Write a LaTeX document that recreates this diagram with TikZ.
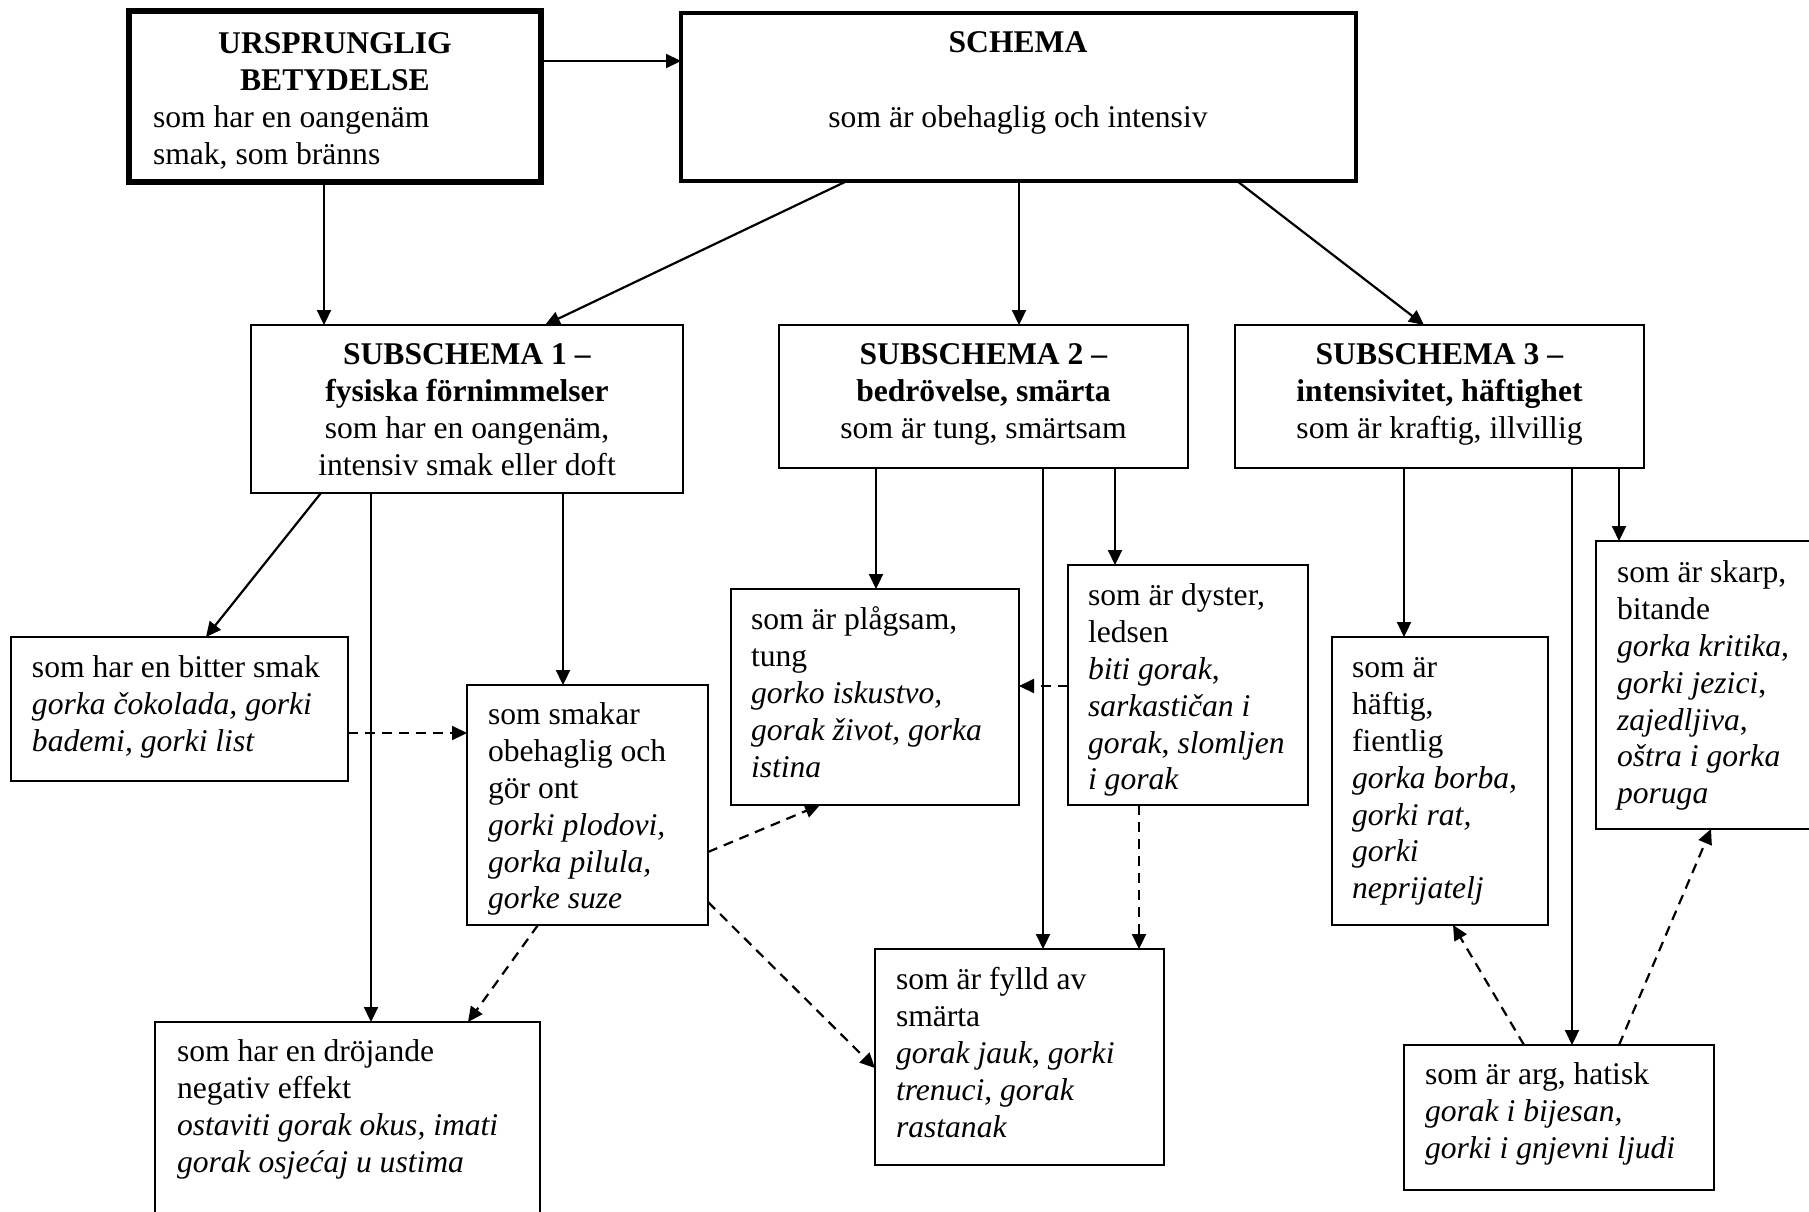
\documentclass[tikz,border=0pt]{standalone}
\usepackage{fontspec}
\setmainfont{Liberation Serif}
\usetikzlibrary{arrows.meta}
\tikzset{
  box/.style={draw, line width=0.8pt, inner sep=0pt, outer sep=0pt},
  subbox/.style={box, line width=1.1pt},
  schbox/.style={box, line width=1.6pt},
  ursbox/.style={box, line width=2.6pt},
  tx/.style={inner sep=0pt, outer sep=0pt, font=\fontsize{15.8pt}{18.4pt}\selectfont, align=left},
  txc/.style={tx, align=center},
  arr/.style={line width=1.1pt, -{Triangle[length=7.5pt,width=7pt]}},
  darr/.style={arr, dash pattern=on 5pt off 3.5pt},
}
\newcommand\bx[6]{\node[#1, anchor=north west, minimum width={(#5-#3)*0.5pt}, minimum height={(#6-#4)*0.5pt}] (#2) at (#3,#4) {};}
\newcommand\tl[4]{\node[tx,anchor=north west] (#1) at (#2,{#3-25.8}) {\strut#4};}
\newcommand\tc[4]{\node[txc,anchor=north] (#1) at (#2,{#3-25.8}) {\strut#4};}
\begin{document}
\begin{tikzpicture}[x=0.5pt,y=-0.5pt]
\path[fill=white,use as bounding box] (0,0) rectangle (1809,1211);
% boxes
\bx{ursbox}{urs}{129}{11}{541}{182}
\bx{schbox}{schema}{681}{13}{1356}{181}
\bx{subbox}{sub1}{251}{325}{683}{493}
\bx{subbox}{sub2}{779}{325}{1188}{468}
\bx{subbox}{sub3}{1235}{325}{1644}{468}
\bx{box}{bitter}{11}{637}{348}{781}
\bx{box}{smakar}{467}{685}{708}{925}
\bx{box}{drojande}{155}{1022}{540}{1225}
\bx{box}{plagsam}{731}{589}{1019}{805}
\bx{box}{dyster}{1068}{565}{1308}{805}
\bx{box}{fylld}{875}{949}{1164}{1165}
\bx{box}{haftig}{1332}{637}{1548}{925}
\bx{box}{skarp}{1596}{541}{1818}{829}
\bx{box}{arg}{1404}{1045}{1714}{1190}
% texts
\tc{urst1}{335}{54}{\bfseries URSPRUNGLIG\\\bfseries BETYDELSE}
\tl{urst2}{153}{128}{som har en oangenäm\\smak, som bränns}
\tc{scht1}{1018}{53}{\bfseries SCHEMA}
\tc{scht2}{1018}{128}{som är obehaglig och intensiv}
\tc{sub1t}{467}{365}{\textbf{SUBSCHEMA 1 –}\\\textbf{fysiska förnimmelser}\\som har en oangenäm,\\intensiv smak eller doft}
\tc{sub2t}{983.5}{365}{\textbf{SUBSCHEMA 2 –}\\\textbf{bedrövelse, smärta}\\som är tung, smärtsam}
\tc{sub3t}{1439.5}{365}{\textbf{SUBSCHEMA 3 –}\\\textbf{intensivitet, häftighet}\\som är kraftig, illvillig}
\tl{bittert}{32}{678}{som har en bitter smak\\\textit{gorka čokolada, gorki}\\\textit{bademi, gorki list}}
\tl{smakart}{488}{725}{som smakar\\obehaglig och\\gör ont\\\textit{gorki plodovi,}\\\textit{gorka pilula,}\\\textit{gorke suze}}
\tl{drojandet}{177}{1062}{som har en dröjande\\negativ effekt\\\textit{ostaviti gorak okus, imati}\\\textit{gorak osjećaj u ustima}}
\tl{plagsamt}{751}{630}{som är plågsam,\\tung\\\textit{gorko iskustvo,}\\\textit{gorak život, gorka}\\\textit{istina}}
\tl{dystert}{1088}{606}{som är dyster,\\ledsen\\\textit{biti gorak},\\\textit{sarkastičan i}\\\textit{gorak}, \textit{slomljen}\\\textit{i gorak}}
\tl{fylldt}{896}{990}{som är fylld av\\smärta\\\textit{gorak jauk, gorki}\\\textit{trenuci, gorak}\\\textit{rastanak}}
\tl{haftigt}{1352}{678}{som är\\häftig,\\fientlig\\\textit{gorka borba,}\\\textit{gorki rat,}\\\textit{gorki}\\\textit{neprijatelj}}
\tl{skarpt}{1617}{583}{som är skarp,\\bitande\\\textit{gorka kritika},\\\textit{gorki jezici},\\\textit{zajedljiva},\\\textit{oštra i gorka}\\\textit{poruga}}
\tl{argt}{1425}{1085}{som är arg, hatisk\\\textit{gorak i bijesan,}\\\textit{gorki i gnjevni ljudi}}
% solid connectors
\draw[arr] (urs.east |- 0,61) -- (schema.west |- 0,61);
\draw[arr] (urs.south -| 324,0) -- (sub1.north -| 324,0);
\draw[arr] (schema.south -| 847,0) -- (sub1.north -| 545,0);
\draw[arr] (schema.south -| 1019,0) -- (sub2.north -| 1019,0);
\draw[arr] (schema.south -| 1237,0) -- (sub3.north -| 1424,0);
\draw[arr] (sub1.south -| 321,0) -- (bitter.north -| 206,0);
\draw[arr] (sub1.south -| 371,0) -- (drojande.north -| 371,0);
\draw[arr] (sub1.south -| 563,0) -- (smakar.north -| 563,0);
\draw[arr] (sub2.south -| 876,0) -- (plagsam.north -| 876,0);
\draw[arr] (sub2.south -| 1043,0) -- (fylld.north -| 1043,0);
\draw[arr] (sub2.south -| 1115,0) -- (dyster.north -| 1115,0);
\draw[arr] (sub3.south -| 1404,0) -- (haftig.north -| 1404,0);
\draw[arr] (sub3.south -| 1572,0) -- (arg.north -| 1572,0);
\draw[arr] (sub3.south -| 1619,0) -- (skarp.north -| 1619,0);
% dashed connectors
\draw[darr] (bitter.east |- 0,733) -- (smakar.west |- 0,733);
\draw[darr] (smakar.south -| 538,0) -- (drojande.north -| 468,0);
\draw[darr] (smakar.east |- 0,852) -- (plagsam.south -| 820,0);
\draw[darr] (smakar.east |- 0,902) -- (fylld.west |- 0,1068);
\draw[darr] (dyster.west |- 0,686) -- (plagsam.east |- 0,686);
\draw[darr] (dyster.south -| 1139,0) -- (fylld.north -| 1139,0);
\draw[darr] (arg.north -| 1524,0) -- (haftig.south -| 1453,0);
\draw[darr] (arg.north -| 1619,0) -- (skarp.south -| 1711,0);
\end{tikzpicture}
\end{document}
